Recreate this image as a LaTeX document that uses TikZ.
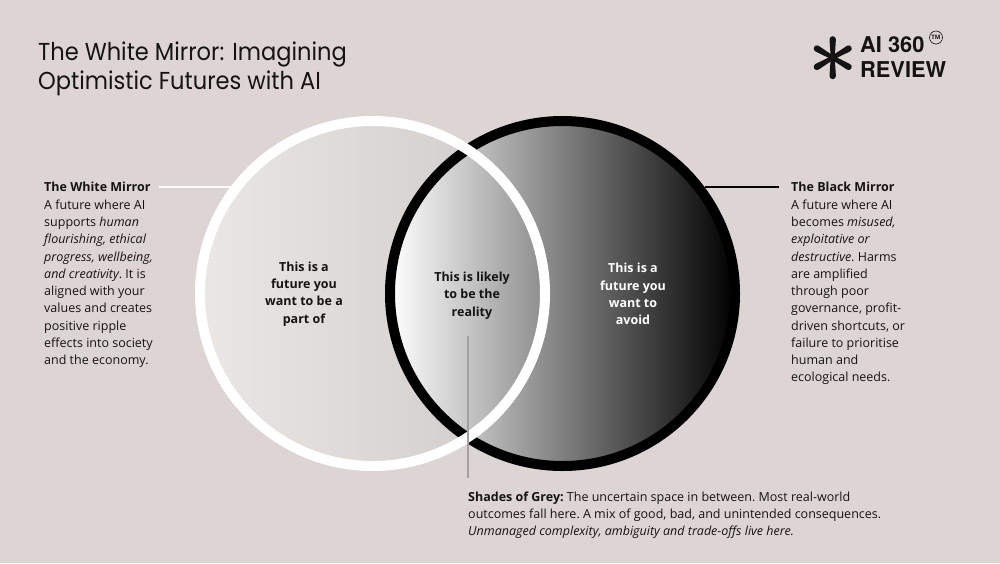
\documentclass[tikz,border=0pt]{standalone}
\usepackage{fontspec}
\setmainfont{Open Sans}
\newfontfamily\titlefont[FakeStretch=0.92]{Poppins}
\newfontfamily\logofont{TeX Gyre Heros}
\usepackage{tikz}
\definecolor{paper}{HTML}{DDD5D3}
\definecolor{ink}{HTML}{141414}
\definecolor{rule}{HTML}{A3A09F}
\definecolor{discleft}{HTML}{EAE7E4}
\definecolor{discmid}{HTML}{DBD4D2}
\definecolor{discright}{HTML}{CDC9C6}
\tikzset{
  every picture/.style={line join=round, line cap=round},
  bodytext/.style={anchor=north west, inner sep=0pt, align=left, text=ink, font=\fontsize{12.5}{17.25}\selectfont\frenchspacing},
  headtext/.style={anchor=west, inner sep=0pt, text=ink, font=\fontsize{12.5}{17.25}\selectfont\bfseries},
  midtext/.style={anchor=center, inner sep=0pt, align=center, text=ink, font=\fontsize{12.5}{17.25}\selectfont\bfseries},
  titletext/.style={anchor=north west, inner sep=0pt, align=left, text=ink, font=\fontsize{24.5}{29}\selectfont\titlefont},
  logotext/.style={anchor=west, inner sep=0pt, text=ink, font=\fontsize{21.8}{22}\selectfont\logofont\bfseries},
}
\begin{document}
\begin{tikzpicture}[x=1pt,y=-1pt]
\useasboundingbox (0,0) rectangle (1000,563);
\fill[paper] (0,0) rectangle (1000,563);
\coordinate (whitecentre) at (372.5,293.5);
\coordinate (blackcentre) at (562.5,293.5);
\shade[left color=discleft,middle color=discmid,right color=discright] (whitecentre) circle[radius=172.5pt];
\shade[left color=white,right color=black] (blackcentre) circle[radius=172.5pt];
\draw[black,line width=10pt] (blackcentre) circle[radius=172.5pt];
\draw[white,line width=10pt] (whitecentre) circle[radius=172.5pt];
\node[titletext] (title) at (38,42) {The White Mirror: Imagining\\Optimistic Futures with AI};
\foreach \a in {0,60,120,180,240,300}{
  \fill[ink,rotate around={\a:(832.7,57.7)}] (830.7,57.7) -- (829.5,39.4) arc[start angle=180,end angle=0,radius=3.2pt] -- (834.7,57.7) -- cycle;
}
\node[logotext] (logoone) at (860,45) {AI 360};
\node[logotext] (logotwo) at (860,70) {REVIEW};
\node[circle,draw=ink,line width=0.6pt,minimum size=13pt,inner sep=0pt,text=ink,font=\fontsize{6}{6}\selectfont\bfseries] (trademark) at (936,37.5) {TM};
\node[headtext] (whitehead) at (44,187) {The White Mirror};
\node[bodytext] (whitebody) at (44,199.5) {A future where AI\\supports \textit{human}\\\textit{flourishing, ethical}\\\textit{progress, wellbeing,}\\\textit{and creativity}. It is\\aligned with your\\values and creates\\positive ripple\\effects into society\\and the economy.};
\node[headtext] (blackhead) at (791,187) {The Black Mirror};
\node[bodytext] (blackbody) at (791,199.5) {A future where AI\\becomes \textit{misused,}\\\textit{exploitative or}\\\textit{destructive}. Harms\\are amplified\\through poor\\governance, profit-\\driven shortcuts, or\\failure to prioritise\\human and\\ecological needs.};
\node[midtext] (wantpart) at (304,294) {This is a\\future you\\want to be a\\part of};
\node[midtext] (reality) at (472,295.5) {This is likely\\to be the\\reality};
\node[midtext,text=white] (avoid) at (633,294) {This is a\\future you\\want to\\avoid};
\node[bodytext] (shades) at (468,491.5) {\textbf{Shades of Grey:} The uncertain space in between. Most real-world\\outcomes fall here. A mix of good, bad, and unintended consequences.\\\textit{Unmanaged complexity, ambiguity and trade-offs live here.}};
\coordinate (whitering) at (232,187);
\coordinate (blackring) at (705,187);
\coordinate (greytop) at (468,336);
\draw[white,line width=1.5pt,line cap=butt,shorten <=8pt] (whitehead.east) -- (whitering);
\draw[black,line width=1.5pt,line cap=butt,shorten >=12pt] (blackring) -- (blackhead.west);
\draw[rule,line width=1.5pt,line cap=butt,shorten >=13.5pt] (greytop) -- (shades.north west);
\end{tikzpicture}
\end{document}
